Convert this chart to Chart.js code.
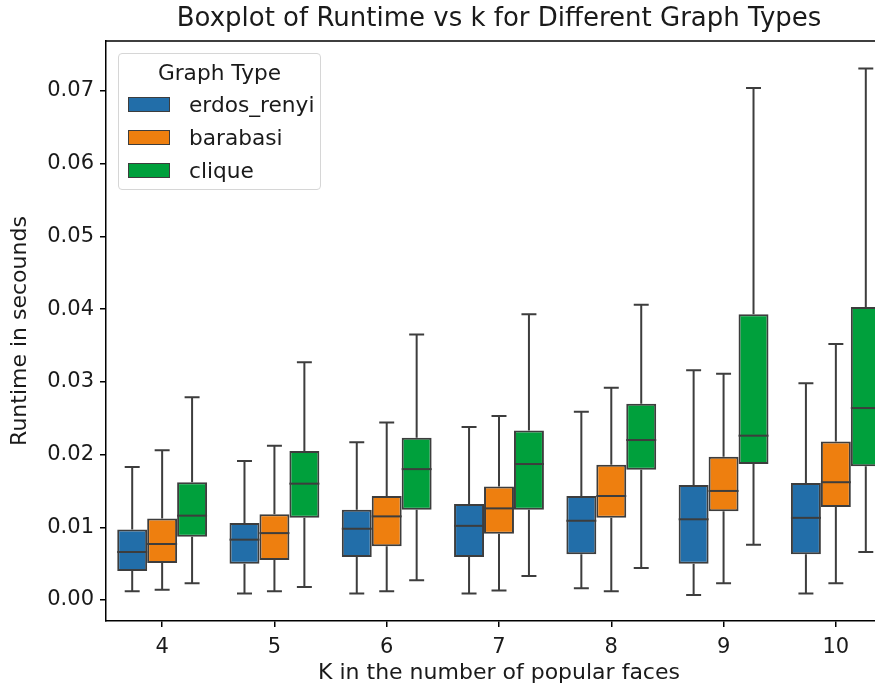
<!DOCTYPE html>
<html>
<head>
<meta charset="utf-8">
<script src="https://cdn.jsdelivr.net/npm/chart.js@4"></script>
<style>
    html, body { margin: 0; padding: 0; background: #fff; overflow: hidden; }
    #wrap { position: relative; width: 998px; height: 692px; }
    #legend {
        position: absolute; left: 118px; top: 53px; width: 201px; height: 135px;
        border: 1px solid #d6d6d6; border-radius: 4px; background: rgba(255,255,255,0.85);
        font-family: 'DejaVu Sans'; font-size: 21.7px; color: #1a1a1a;
    }
    #legend .title { position: absolute; left: 0; right: 0; top: 6px; line-height: 26px; text-align: center; }
    #legend .row { position: absolute; left: 0; right: 0; height: 33px; }
    #legend .swatch { position: absolute; left: 9px; top: 8px; width: 40px; height: 13px; border: 1.5px solid #3d3d3d; }
    #legend .label { position: absolute; left: 70px; top: 0; line-height: 31px; }
</style>
</head>
<body>
<div id="wrap">
    <canvas id="boxChart"></canvas>
    <div id="legend"></div>
</div>
<script>
// ============================================================
// Data
// ============================================================
const categories = ['4', '5', '6', '7', '8', '9', '10'];
const seriesNames = ['erdos_renyi', 'barabasi', 'clique'];
const seriesColors = ['#226ea9', '#ee7f0f', '#00a03c'];

// erdos_renyi
const erdosLow = [0.0012, 0.0009, 0.0009, 0.0009, 0.0016, 0.0007, 0.0009];
const erdosQ1  = [0.0040, 0.0050, 0.0059, 0.0059, 0.0063, 0.0050, 0.0063];
const erdosMed = [0.0066, 0.0083, 0.0098, 0.0102, 0.0109, 0.0111, 0.0113];
const erdosQ3  = [0.0097, 0.0106, 0.0124, 0.0132, 0.0143, 0.0158, 0.0161];
const erdosHigh = [0.0183, 0.0191, 0.0217, 0.0238, 0.0259, 0.0316, 0.0298];

// barabasi
const barabasiLow = [0.0014, 0.0012, 0.0012, 0.0013, 0.0012, 0.0023, 0.0023];
const barabasiQ1  = [0.0051, 0.0055, 0.0074, 0.0091, 0.0113, 0.0122, 0.0128];
const barabasiMed = [0.0077, 0.0092, 0.0115, 0.0126, 0.0143, 0.0150, 0.0162];
const barabasiQ3  = [0.0112, 0.0118, 0.0143, 0.0156, 0.0186, 0.0197, 0.0218];
const barabasiHigh = [0.0206, 0.0212, 0.0244, 0.0253, 0.0292, 0.0311, 0.0352];

// clique
const cliqueLow = [0.0023, 0.0018, 0.0027, 0.0033, 0.0044, 0.0076, 0.0066];
const cliqueQ1  = [0.0087, 0.0113, 0.0124, 0.0124, 0.0179, 0.0187, 0.0184];
const cliqueMed = [0.0116, 0.0160, 0.0180, 0.0187, 0.0220, 0.0226, 0.0264];
const cliqueQ3  = [0.0162, 0.0205, 0.0223, 0.0233, 0.0270, 0.0393, 0.0403];
const cliqueHigh = [0.0279, 0.0327, 0.0365, 0.0393, 0.0406, 0.0704, 0.0731];

const yTicks = [0, 0.01, 0.02, 0.03, 0.04, 0.05, 0.06, 0.07];

const FONT = 'DejaVu Sans';
const LINE = '#3d3d3d';

function makeBoxDataset(name, color, low, q1, med, q3, high) {
    return {
        label: name,
        data: categories.map((_, i) => [q1[i], q3[i]]),
        whiskerLow: low,
        whiskerHigh: high,
        medians: med,
        backgroundColor: color,
        borderColor: LINE,
        borderWidth: 2,
        borderSkipped: false,
        barPercentage: 1.0,
        categoryPercentage: 0.8,
    };
}

// Whiskers + caps behind the boxes, medians on top
function drawBoxParts(chart, part) {
    const { ctx } = chart;
    const yScale = chart.scales.y;
    ctx.save();
    ctx.strokeStyle = LINE;
    ctx.lineWidth = 2;
    chart.data.datasets.forEach((ds, d) => {
        const meta = chart.getDatasetMeta(d);
        meta.data.forEach((bar, i) => {
            const x = bar.x, w = bar.width;
            ctx.beginPath();
            if (part === 'whisker') {
                const yLo = yScale.getPixelForValue(ds.whiskerLow[i]);
                const yHi = yScale.getPixelForValue(ds.whiskerHigh[i]);
                const yQ1 = yScale.getPixelForValue(ds.data[i][0]);
                const yQ3 = yScale.getPixelForValue(ds.data[i][1]);
                ctx.moveTo(x, yLo); ctx.lineTo(x, yQ1);
                ctx.moveTo(x, yQ3); ctx.lineTo(x, yHi);
                ctx.moveTo(x - w / 4, yLo); ctx.lineTo(x + w / 4, yLo);
                ctx.moveTo(x - w / 4, yHi); ctx.lineTo(x + w / 4, yHi);
            } else {
                const yMed = yScale.getPixelForValue(ds.medians[i]);
                ctx.moveTo(x - w / 2, yMed); ctx.lineTo(x + w / 2, yMed);
            }
            ctx.stroke();
        });
    });
    ctx.restore();
}

const boxParts = {
    id: 'boxParts',
    beforeDatasetsDraw(chart) { drawBoxParts(chart, 'whisker'); },
    afterDatasetsDraw(chart) { drawBoxParts(chart, 'median'); },
};

// matplotlib-style full frame (top/right spines)
const frame = {
    id: 'frame',
    afterDraw(chart) {
        const { ctx, chartArea: a } = chart;
        ctx.save();
        ctx.strokeStyle = '#000';
        ctx.lineWidth = 1.5;
        ctx.beginPath();
        ctx.moveTo(a.left, a.top);
        ctx.lineTo(a.right, a.top);
        ctx.lineTo(a.right, a.bottom);
        ctx.stroke();
        ctx.restore();
    }
};

const chart = new Chart(document.getElementById('boxChart'), {
    type: 'bar',
    data: {
        labels: categories,
        datasets: [
            makeBoxDataset(seriesNames[0], seriesColors[0], erdosLow, erdosQ1, erdosMed, erdosQ3, erdosHigh),
            makeBoxDataset(seriesNames[1], seriesColors[1], barabasiLow, barabasiQ1, barabasiMed, barabasiQ3, barabasiHigh),
            makeBoxDataset(seriesNames[2], seriesColors[2], cliqueLow, cliqueQ1, cliqueMed, cliqueQ3, cliqueHigh),
        ]
    },
    options: {
        responsive: true,
        maintainAspectRatio: false,
        animation: false,
        layout: { padding: 0 },
        plugins: {
            legend: { display: false },
            tooltip: { enabled: false },
            title: {
                display: true,
                text: 'Boxplot of Runtime vs k for Different Graph Types',
                color: '#1a1a1a',
                font: { family: FONT, size: 26, weight: 'normal', lineHeight: 1.2 },
                padding: { top: 4, bottom: 5.8 },
            },
        },
        scales: {
            x: {
                grid: { display: true, drawOnChartArea: false, drawTicks: true, tickLength: 6, offset: false, color: '#000', lineWidth: 1.5 },
                border: { display: true, color: '#000', width: 1.5 },
                ticks: { color: '#1a1a1a', padding: 8, maxRotation: 0, autoSkip: false, font: { family: FONT, size: 21 } },
                title: {
                    display: true,
                    text: 'K in the number of popular faces',
                    color: '#1a1a1a',
                    font: { family: FONT, size: 22, lineHeight: 1.2 },
                    padding: { top: 0, bottom: 6 },
                },
                afterFit: (scale) => { scale.height = 71; },
            },
            y: {
                min: -0.002888,
                max: 0.07688,
                grid: { display: true, drawOnChartArea: false, drawTicks: true, tickLength: 6, color: '#000', lineWidth: 1.5 },
                border: { display: true, color: '#000', width: 1.5 },
                afterBuildTicks: (scale) => { scale.ticks = yTicks.map(v => ({ value: v })); },
                ticks: {
                    color: '#1a1a1a',
                    padding: 6,
                    font: { family: FONT, size: 21 },
                    callback: (v) => Number(v).toFixed(2),
                },
                title: {
                    display: true,
                    text: 'Runtime in secounds',
                    color: '#1a1a1a',
                    font: { family: FONT, size: 22, lineHeight: 1.2 },
                    padding: { top: 7, bottom: 0 },
                },
                afterFit: (scale) => { scale.width = 106; },
            },
            // blank right-hand gutter so the plot (and title) centre matches the original axes
            yRight: {
                position: 'right',
                display: true,
                grid: { display: false },
                border: { display: false },
                ticks: { display: false },
                afterFit: (scale) => { scale.width = 106; },
            },
        },
    },
    plugins: [boxParts, frame],
});

// Legend inside the axes, built from the chart's datasets
const legendEl = document.getElementById('legend');
legendEl.innerHTML = `<div class="title">Graph Type</div>` +
    chart.data.datasets.map((ds, i) => `
        <div class="row" style="top:${35 + i * 33}px">
            <div class="swatch" style="background:${ds.backgroundColor}"></div>
            <div class="label">${ds.label}</div>
        </div>`).join('');
</script>
</body>
</html>
